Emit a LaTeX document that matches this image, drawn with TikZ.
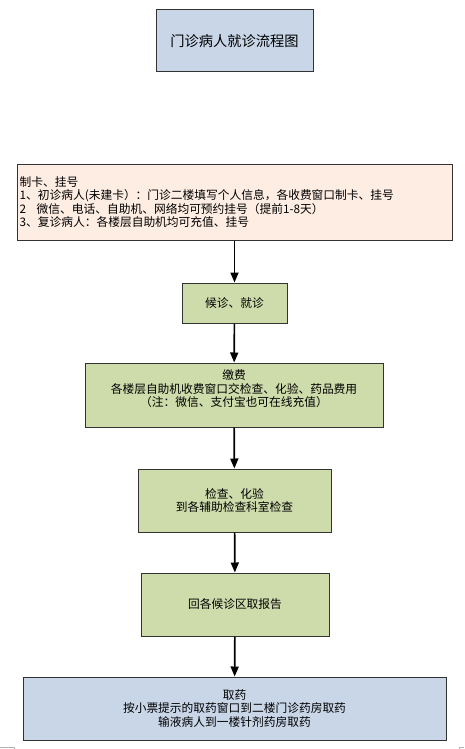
\documentclass[tikz,border=0pt]{standalone}
\usepackage{fontspec}
\newfontfamily\cjk{Noto Sans CJK SC}
\usetikzlibrary{arrows.meta}
\definecolor{hdblue}{RGB}{200,214,232}
\definecolor{stepgreen}{RGB}{206,219,170}
\definecolor{cardpeach}{RGB}{253,237,226}
\begin{document}
\begin{tikzpicture}[
  x=0.75pt, y=-0.75pt,
  every node/.style={draw=black!80, line width=0.75pt, align=center, inner sep=2pt,
    font=\cjk\fontsize{8.8}{10.2}\selectfont},
  stepbox/.style={fill=stepgreen},
  bluebox/.style={fill=hdblue},
  arrow/.style={-{Triangle[width=6pt,length=7.5pt]}, line width=1.25pt}
]
\useasboundingbox (0,0) rectangle (464,749);
\node (title) [bluebox, minimum width=117.75pt, minimum height=46.5pt,
  font=\cjk\fontsize{10.7}{12}\selectfont] at (234.5,41) {门诊病人就诊流程图};
\node (card) [fill=cardpeach, align=left, text width=322.25pt, minimum height=57pt]
  at (234.5,202) {制卡、挂号\\
  1、初诊病人(未建卡）：门诊二楼填写个人信息，各收费窗口制卡、挂号\\
  2\hspace{0.9em}微信、电话、自助机、网络均可预约挂号（提前1-8天）\\
  3、复诊病人：各楼层自助机均可充值、挂号};
\node (wait) [stepbox, minimum width=78.75pt, minimum height=30pt] at (234.5,303) {候诊、就诊};
\node (pay) [stepbox, minimum width=223.5pt, minimum height=48pt] at (234,395)
  {缴费\\ 各楼层自助机收费窗口交检查、化验、药品费用\\ （注：微信、支付宝也可在线充值）\\ \mbox{}};
\node (exam) [stepbox, minimum width=144.75pt, minimum height=47.25pt] at (234.5,500.5)
  {检查、化验\\ 到各辅助检查科室检查};
\node (report) [stepbox, minimum width=141pt, minimum height=47.25pt] at (235,604.5) {回各候诊区取报告};
\node (drug) [bluebox, minimum width=317.25pt, minimum height=47.25pt] at (234.5,708.5)
  {取药\\ 按小票提示的取药窗口到二楼门诊药房取药\\ 输液病人到一楼针剂药房取药};

\draw[arrow] (card) -- (wait);
\draw[arrow] (wait) -- (pay);
\draw[arrow] (pay) -- (exam);
\draw[arrow] (exam) -- (report);
\draw[arrow] (report) -- (drug);

% page corner marks
\draw[gray!60, line width=0.75pt] (0,747) -- (14,747) -- (14,749);
\draw[gray!60, line width=0.75pt] (464,747) -- (459,747) -- (459,749);
\end{tikzpicture}
\end{document}
